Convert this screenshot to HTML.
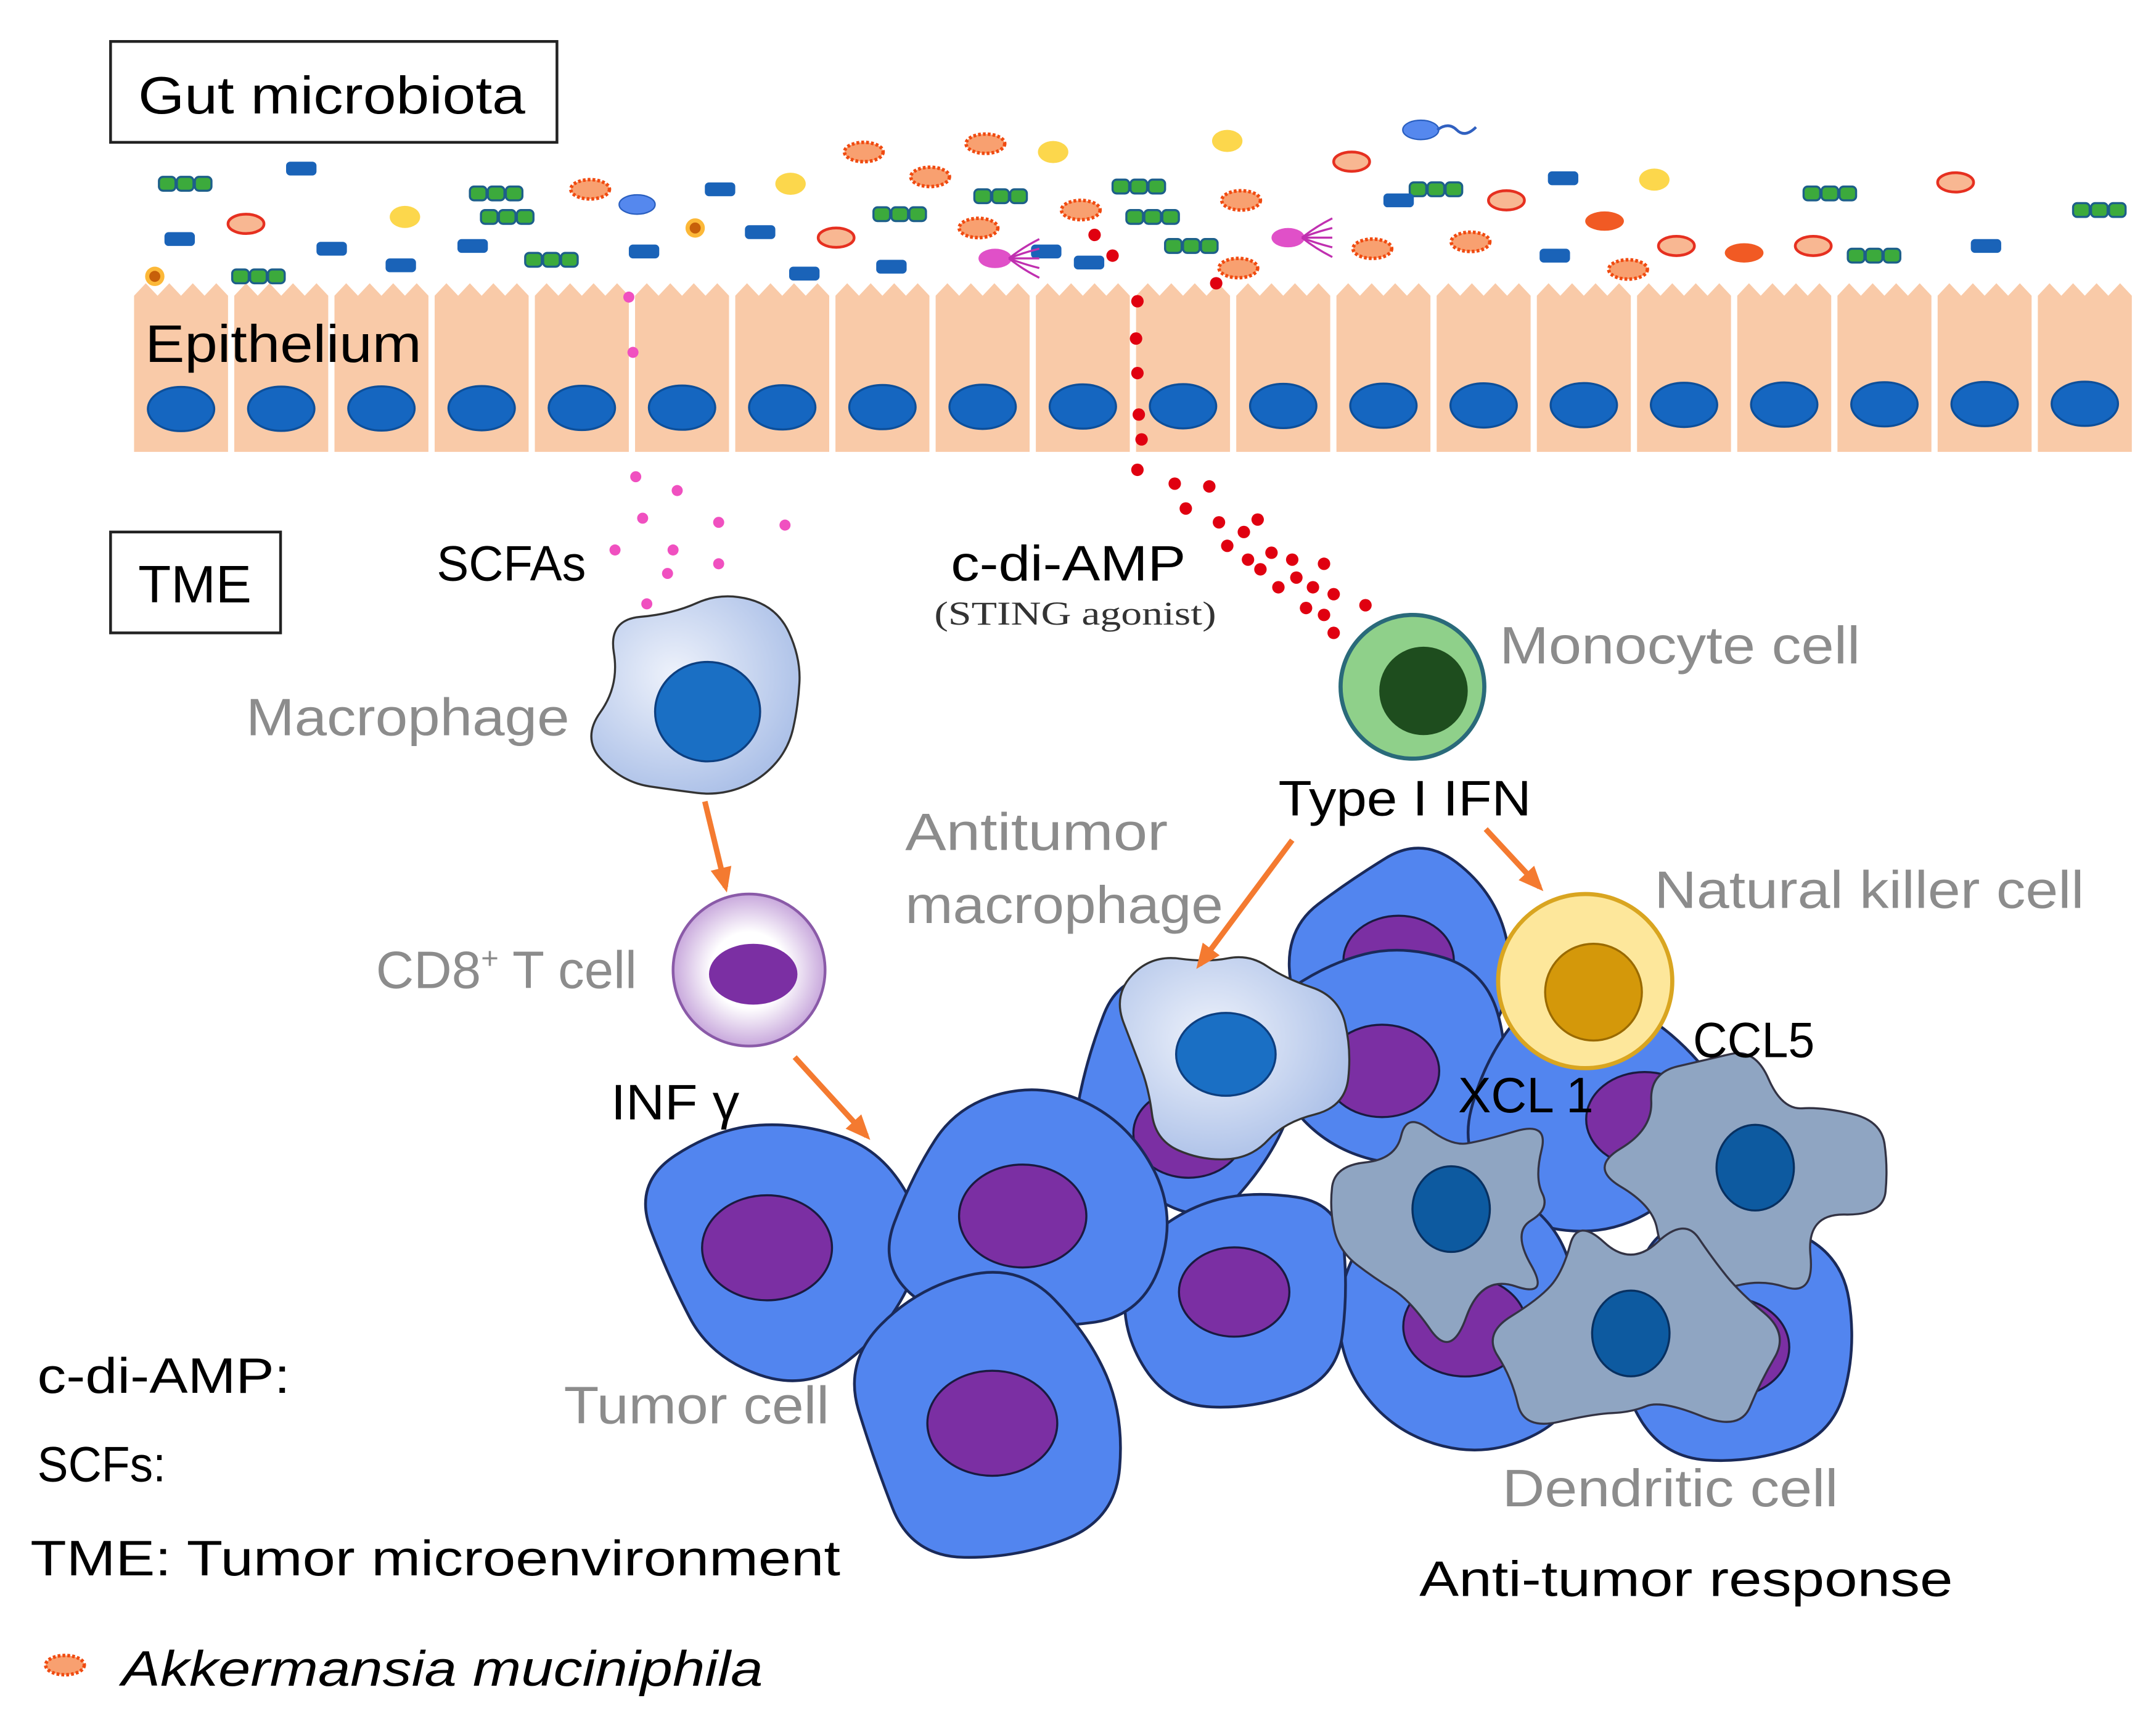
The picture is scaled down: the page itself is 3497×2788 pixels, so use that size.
<!DOCTYPE html>
<html><head><meta charset="utf-8"><style>
html,body{margin:0;padding:0;background:#fff;}
svg{display:block}
text{font-family:"Liberation Sans","DejaVu Sans",sans-serif;}
</style></head><body>
<svg id="s" width="3497" height="2788" viewBox="0 0 1560 1244" preserveAspectRatio="none" xmlns="http://www.w3.org/2000/svg">
<rect width="1560" height="1244" fill="#fff"/>
<g id="epi"></g>
<g id="bact"></g>
<g id="dots"></g>
<g id="cells"></g>
<rect x="80" y="30" width="323" height="73" fill="#fff" stroke="#222" stroke-width="2"/>
<text x="100" y="82" font-size="38" fill="#000" textLength="280" lengthAdjust="spacingAndGlyphs">Gut microbiota</text>
<rect x="80" y="385" width="123" height="73" fill="#fff" stroke="#222" stroke-width="2"/>
<text x="100" y="436" font-size="38" fill="#000" textLength="82" lengthAdjust="spacingAndGlyphs">TME</text>
<text x="105" y="262" font-size="38" fill="#000" textLength="200" lengthAdjust="spacingAndGlyphs">Epithelium</text>
<text x="316" y="420" font-size="36" fill="#000" textLength="108" lengthAdjust="spacingAndGlyphs">SCFAs</text>
<text x="688" y="420" font-size="36" fill="#000" textLength="170" lengthAdjust="spacingAndGlyphs">c-di-AMP</text>
<text x="676" y="452" font-size="24" fill="#333" style="font-family:'Liberation Serif',serif" textLength="204" lengthAdjust="spacingAndGlyphs">(STING agonist)</text>
<text x="178" y="532" font-size="38" fill="#8c8c8c" textLength="234" lengthAdjust="spacingAndGlyphs">Macrophage</text>
<text x="272" y="715" font-size="38" fill="#8c8c8c">CD8<tspan font-size="22" dy="-14">+</tspan><tspan dy="14"> T cell</tspan></text>
<text x="442" y="810" font-size="36" fill="#000" textLength="93" lengthAdjust="spacingAndGlyphs">INF γ</text>
<text x="1085" y="480" font-size="38" fill="#8c8c8c" textLength="261" lengthAdjust="spacingAndGlyphs">Monocyte cell</text>
<text x="925" y="590" font-size="36" fill="#000" textLength="183" lengthAdjust="spacingAndGlyphs">Type I IFN</text>
<text x="655" y="615" font-size="38" fill="#8c8c8c" textLength="190" lengthAdjust="spacingAndGlyphs">Antitumor</text>
<text x="655" y="668" font-size="38" fill="#8c8c8c" textLength="230" lengthAdjust="spacingAndGlyphs">macrophage</text>
<text x="1197" y="657" font-size="38" fill="#8c8c8c" textLength="311" lengthAdjust="spacingAndGlyphs">Natural killer cell</text>
<text x="408" y="1030" font-size="38" fill="#8c8c8c" textLength="192" lengthAdjust="spacingAndGlyphs">Tumor cell</text>
<text x="1087" y="1090" font-size="38" fill="#8c8c8c" textLength="243" lengthAdjust="spacingAndGlyphs">Dendritic cell</text>
<text x="1027" y="1155" font-size="36" fill="#000" textLength="386" lengthAdjust="spacingAndGlyphs">Anti-tumor response</text>
<text x="27" y="1008" font-size="36" fill="#000" textLength="183" lengthAdjust="spacingAndGlyphs">c-di-AMP:</text>
<text x="27" y="1072" font-size="36" fill="#000" textLength="93" lengthAdjust="spacingAndGlyphs">SCFs:</text>
<text x="22" y="1140" font-size="36" fill="#000" textLength="586" lengthAdjust="spacingAndGlyphs">TME: Tumor microenvironment</text>
<text x="88" y="1220" font-size="36" fill="#000" font-style="italic" textLength="464" lengthAdjust="spacingAndGlyphs">Akkermansia muciniphila</text>
<g id="top"></g>
<text x="1225" y="765" font-size="36" fill="#000" textLength="88" lengthAdjust="spacingAndGlyphs">CCL5</text>
<text x="1055" y="805" font-size="36" fill="#000" textLength="98" lengthAdjust="spacingAndGlyphs">XCL 1</text>
</svg>
<script>
const NS="http://www.w3.org/2000/svg";
function el(p,t,a){const e=document.createElementNS(NS,t);for(const k in a)e.setAttribute(k,a[k]);document.getElementById(p).appendChild(e);return e;}
for(let i=0;i<20;i++){const x=95+i*72.5;
 let d=`M${x+2},327 L${x+2},${220}`;
 for(let j=0;j<=8;j++){d+=` L${x+2+j*8.5},${j%2?205:214}`;}
 d+=` L${x+70},220 L${x+70},327 Z`;
 el("epi","path",{d:d,fill:"#f9caa8"});
 el("epi","ellipse",{cx:x+36,cy:296-i*0.2,rx:24,ry:16,fill:"#1566c0",stroke:"#0d4f9a","stroke-width":1.5});
}
const B=[
["g",135,133],["b",218,122],["b",130,173],["o",178,162],["y",293,157],["g",188,200],["b",240,180],["b",290,192],["g",360,140],["g",368,157],["b",342,178],["g",400,188],["a",427,137],["B",461,148],["b",466,182],["br",503,165],["br",112,200],["b",521,137],["y",572,133],["b",550,168],["o",605,172],["b",582,198],["a",625,110],["a",713,104],["y",762,110],["a",673,128],["g",652,155],["b",645,193],["g",725,142],["a",708,165],["a",782,152],["g",825,135],["g",835,157],["b",757,182],["b",788,190],["y",888,102],["a",898,145],["g",863,178],["a",896,194],["o",978,117],["B",1028,94],["g",1040,137],["b",1012,145],["o",1090,145],["a",993,180],["a",1064,175],["b",1131,129],["r",1161,160],["b",1125,185],["a",1178,195],["o",1213,178],["r",1262,183],["o",1312,178],["y",1197,130],["g",1325,140],["g",1357,185],["o",1415,132],["b",1437,178],["g",1520,152]];
const C={b:"#1a63b8",y:"#fcd74c",o:"#f8b792",a:"#f57c3a",r:"#f15a24",B:"#5588ee",br:"#c7600a"};
B.forEach(([t,x,y])=>{
 if(t=="g"){for(let k=0;k<3;k++)el("bact","rect",{x:x-20+k*13,y:y-5,width:12,height:10,rx:3,fill:"#3caa3c",stroke:"#1d5f8a","stroke-width":1.5});}
 else if(t=="b")el("bact","rect",{x:x-11,y:y-5,width:22,height:10,rx:3,fill:C.b});
 else if(t=="y")el("bact","ellipse",{cx:x,cy:y,rx:11,ry:8,fill:C.y});
 else if(t=="o")el("bact","ellipse",{cx:x,cy:y,rx:13,ry:7,fill:C.o,stroke:"#e63020","stroke-width":2});
 else if(t=="a")el("bact","ellipse",{cx:x,cy:y,rx:14,ry:7,fill:"#f8a070",stroke:"#f04a10","stroke-width":2.5,"stroke-dasharray":"2 1.5"});
 else if(t=="r")el("bact","ellipse",{cx:x,cy:y,rx:14,ry:7,fill:C.r});
 else if(t=="B")el("bact","ellipse",{cx:x,cy:y,rx:13,ry:7,fill:C.B,stroke:"#2a5fc0","stroke-width":1});
 else if(t=="br"){el("bact","circle",{cx:x,cy:y,r:7,fill:"#fcb838"});el("bact","circle",{cx:x,cy:y,r:4,fill:C.br});}
});
[[728,187],[940,172]].forEach(([x,y])=>{el("bact","ellipse",{cx:x-8,cy:y,rx:12,ry:7,fill:"#e050c8"});for(let k=-2;k<=2;k++)el("bact","path",{d:`M${x+2},${y} q10,${k*4} 22,${k*7}`,stroke:"#c030b0",fill:"none","stroke-width":1.5});});
el("bact","path",{d:"M1040,94 q8,-6 14,0 t14,-2",stroke:"#3060c0",fill:"none","stroke-width":2});
el("bact","ellipse",{cx:47,cy:1205,rx:14,ry:7,fill:"#f8a070",stroke:"#f04a10","stroke-width":2.5,"stroke-dasharray":"2 1.5"});
const pink=[[455,215],[458,255],[460,345],[490,355],[465,375],[520,378],[568,380],[445,398],[487,398],[520,408],[483,415],[468,437]];
pink.forEach(([x,y])=>el("dots","circle",{cx:x,cy:y,r:4,fill:"#f050c0"}));
const red=[[792,170],[805,185],[880,205],[823,218],[822,245],[823,270],[824,300],[826,318],[823,340],[850,350],[875,352],[858,368],[882,378],[900,385],[910,376],[888,395],[903,405],[920,400],[935,405],[958,408],[912,412],[938,418],[925,425],[950,425],[965,430],[988,438],[945,440],[958,445],[965,458]];
red.forEach(([x,y])=>el("dots","circle",{cx:x,cy:y,r:4.5,fill:"#e00010"}));
function blob(p,cx,cy,r,n,amp,seed,fill,stroke,sw,sx,sy){sx=sx||1;sy=sy||1;let pts=[];let s=seed;
 for(let i=0;i<n;i++){s=(s*9301+49297)%233280;const rr=r*(1+amp*(s/233280-0.5)*2);const a=i/n*Math.PI*2;pts.push([cx+Math.cos(a)*rr*sx,cy+Math.sin(a)*rr*sy]);}
 let d="";for(let i=0;i<n;i++){const a=pts[i],b=pts[(i+1)%n];const m=[(a[0]+b[0])/2,(a[1]+b[1])/2];if(i==0){const z=pts[n-1];d+=`M${(z[0]+a[0])/2},${(z[1]+a[1])/2} `;}d+=`Q${a[0]},${a[1]} ${m[0]},${m[1]} `;}
 el(p,"path",{d:d+"Z",fill:fill,stroke:stroke,"stroke-width":sw,"stroke-linejoin":"round"});}
function tumor(cx,cy,r,seed,nx,ny){blob("cells",cx,cy,r,9,0.18,seed,"#5285ef","#1a2a5a",2);el("cells","ellipse",{cx:cx+(nx||0),cy:cy+(ny||0),rx:r*0.47,ry:r*0.38,fill:"#7b2fa3",stroke:"#1a1a40","stroke-width":1.5});}
tumor(1012,700,85,7,0,-5);tumor(1000,765,88,11,0,10);tumor(860,790,85,3,0,30);tumor(1150,800,90,19,40,10);
tumor(1060,950,95,23,0,10);tumor(1250,975,95,31,0,0);tumor(893,935,85,5,0,0);
tumor(565,895,100,13,-10,8);tumor(740,880,98,17,0,0);tumor(718,1025,100,29,0,5);
blob("cells",888,760,78,14,0.22,41,"url(#mg)","#333",1.5);
el("cells","ellipse",{cx:887,cy:763,rx:36,ry:30,fill:"#1a6fc4",stroke:"#0d3f80","stroke-width":1.5});
el("cells","circle",{cx:1147,cy:710,r:63,fill:"#fde79b",stroke:"#d9a520","stroke-width":3});
el("cells","circle",{cx:1153,cy:718,r:35,fill:"#d4980a",stroke:"#9a6a00","stroke-width":1.5});
function dc(cx,cy,seed){blob("cells",cx,cy,85,16,0.45,seed,"#8fa5c2","#334","1.5",1,0.9);el("cells","ellipse",{cx:cx,cy:cy,rx:28,ry:31,fill:"#0d5aa0",stroke:"#083060","stroke-width":1.5});}
dc(1050,875,53);dc(1270,845,61);dc(1180,965,67);
blob("cells",512,512,80,13,0.2,71,"url(#mg)","#333",1.5);
el("cells","ellipse",{cx:512,cy:515,rx:38,ry:36,fill:"#1a6fc4",stroke:"#0d3f80","stroke-width":1.5});
el("cells","circle",{cx:542,cy:702,r:55,fill:"url(#cg)",stroke:"#8a5aa8","stroke-width":2});
el("cells","ellipse",{cx:545,cy:705,rx:32,ry:22,fill:"#7b2fa3"});
el("cells","circle",{cx:1022,cy:497,r:52,fill:"#8fd08a",stroke:"#2a6a7a","stroke-width":3});
el("cells","circle",{cx:1030,cy:500,r:32,fill:"#1e4d1e"});
function arr(x1,y1,x2,y2){el("top","line",{x1:x1,y1:y1,x2:x2,y2:y2,stroke:"#f47a30","stroke-width":4});const a=Math.atan2(y2-y1,x2-x1),L=16,w=0.5;
el("top","path",{d:`M${x2+Math.cos(a)*4},${y2+Math.sin(a)*4} L${x2-L*Math.cos(a-w)},${y2-L*Math.sin(a-w)} L${x2-L*Math.cos(a+w)},${y2-L*Math.sin(a+w)} Z`,fill:"#f47a30"});}
arr(510,580,525,642);arr(575,765,627,822);arr(935,608,868,698);arr(1075,600,1114,642);
const defs=document.createElementNS(NS,"defs");defs.innerHTML='<radialGradient id="mg" cx="0.4" cy="0.4" r="0.7"><stop offset="0" stop-color="#eef2fb"/><stop offset="1" stop-color="#a6bce6"/></radialGradient><radialGradient id="cg"><stop offset="0.5" stop-color="#fff"/><stop offset="1" stop-color="#c8a8dc"/></radialGradient>';
document.getElementById("s").prepend(defs);
</script>
</body></html>
